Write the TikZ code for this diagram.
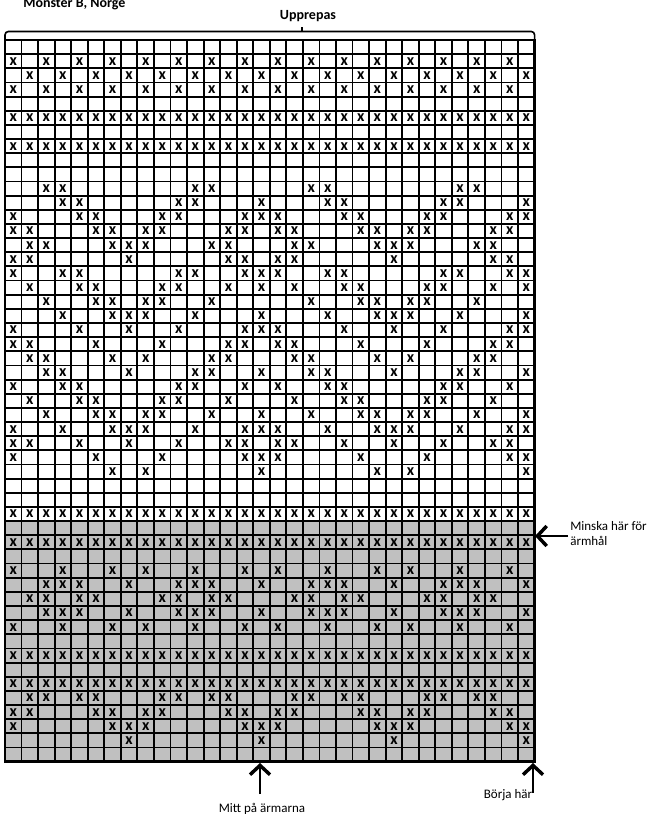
\documentclass[tikz,border=0pt]{standalone}
\usepackage{fontspec}
\setmainfont{Carlito}
\usetikzlibrary{arrows.meta}
\definecolor{chartgray}{RGB}{192,192,192}
\definecolor{chartink}{RGB}{0,0,0}
\tikzset{
  cellmark/.style={
    inner sep=0pt,
    font=\fontsize{12}{12}\selectfont\bfseries,
    text=chartink
  },
  gridline/.style={line width=1.4pt, draw=chartink},
  frameline/.style={line width=1.9pt, draw=chartink},
  bracketline/.style={line width=1.2pt, draw=chartink, rounded corners=2.5pt},
  headtext/.style={inner sep=0pt, font=\fontsize{10.5}{12}\selectfont\bfseries},
  notetext/.style={inner sep=0pt, font=\fontsize{9.75}{11.5}\selectfont, align=left},
  bigarrow/.style={line width=1.6pt, draw=chartink,
    -{Straight Barb[length=7pt,width=15pt,line width=2.6pt]}}
}

\begin{document}
\begin{tikzpicture}[x=0.75pt,y=-0.75pt]
    \useasboundingbox (0,0) rectangle (654,814);

    % grey band at the bottom (rows 35-51)
    \fill[chartgray] (5,521.1) rectangle (534.6,761.65);

    % grid, 32 stitches x 51 rows
    \foreach \i in {0,...,32}
      \draw[gridline] ({5+16.55*\i},40) -- ({5+16.55*\i},761.65);
    \foreach \j in {0,...,51}
      \draw[gridline] (5,{40+14.15*\j}) -- (534.6,{40+14.15*\j});
    \draw[frameline] (5,40) rectangle (534.6,761.65);

    % marks, one repeat of 16 stitches drawn twice
    \foreach \r/\cols in {
        2/{1,3,...,15}, 3/{2,4,...,16}, 4/{1,3,...,15},
        6/{1,...,16}, 8/{1,...,16},
        11/{3,4,12,13}, 12/{4,5,11,12,16}, 13/{1,5,6,10,11,15,16},
        14/{1,2,6,7,9,10,14,15}, 15/{2,3,7,8,9,13,14}, 16/{1,2,8,14,15},
        17/{1,4,5,11,12,15,16}, 18/{2,5,6,10,11,14,16}, 19/{3,6,7,9,10,13},
        20/{4,7,8,9,12,16}, 21/{1,5,8,11,15,16}, 22/{1,2,6,10,14,15},
        23/{2,3,7,9,13,14}, 24/{3,4,8,12,13,16}, 25/{1,4,5,11,12,15},
        26/{2,5,6,10,11,14}, 27/{3,6,7,9,10,13,16}, 28/{1,4,7,8,9,12,15,16},
        29/{1,2,5,8,11,14,15}, 30/{1,6,10,15,16}, 31/{7,9,16},
        34/{1,...,16}, 36/{1,...,16},
        38/{1,4,7,9,12,15}, 39/{3,4,5,8,11,12,13,16}, 40/{2,3,5,6,10,11,13,14},
        41/{3,4,5,8,11,12,13,16}, 42/{1,4,7,9,12,15},
        44/{1,...,16}, 46/{1,...,16},
        47/{2,3,5,6,10,11,13,14}, 48/{1,2,6,7,9,10,14,15},
        49/{1,7,8,9,15,16}, 50/{8,16}} {
      \foreach \c in \cols {
        \foreach \k in {0,16} {
          \pgfmathtruncatemacro\cc{\c+\k}
          \node[cellmark] (x-\r-\cc) at ({5+16.55*(\cc-0.5)},{40+14.15*(\r-0.5)}) {x};
        }
      }
    }

    % headings
    \node[headtext, anchor=base west] (title) at (23,7) {Mönster B, Norge};
    \node[headtext, anchor=base] (repeat) at (308,19.5) {Upprepas};
    \draw[bracketline] (5,40) -- (5,31.5) -- (534.6,31.5) -- (534.6,40);
    \draw[line width=1.2pt] (302,31.5) -- (302,27);

    % notes and arrows
    \node[notetext, anchor=north west] (armhole) at (570,521) {Minska här för\\ärmhål};
    \node[notetext, anchor=base] (sleeve) at (262,812) {Mitt på ärmarna};
    \node[notetext, anchor=base] (start) at (508,798) {Börja här};
    \coordinate (armholetail) at (568,536);
    \coordinate (armholetip) at (535,536);
    \coordinate (sleevetail) at (260,794);
    \coordinate (sleevetip) at (260,763);
    \coordinate (starttail) at (533,793);
    \coordinate (starttip) at (533,763);
    \draw[bigarrow] (armholetail) -- (armholetip);
    \draw[bigarrow] (sleevetail) -- (sleevetip);
    \draw[bigarrow] (starttail) -- (starttip);
  \end{tikzpicture}
\end{document}
